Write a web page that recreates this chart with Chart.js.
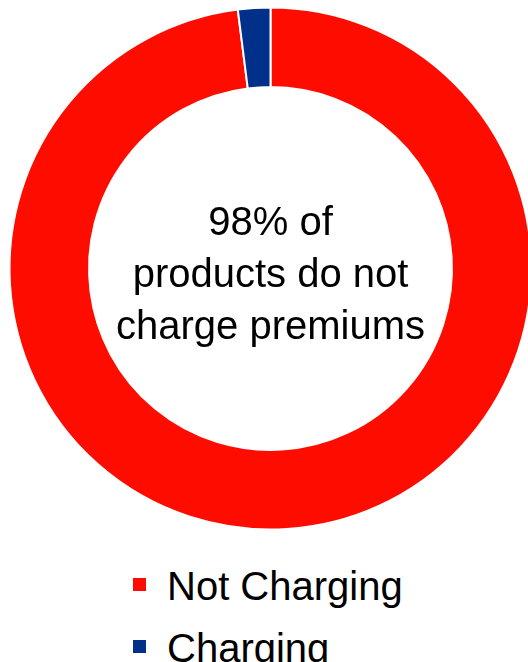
<!DOCTYPE html>
<html>
<head>
<meta charset="utf-8">
<script src="https://cdn.jsdelivr.net/npm/chart.js@4.4.1/dist/chart.umd.min.js"></script>
<style>
    html, body {
        margin: 0;
        padding: 0;
        background: #fff;
        width: 528px;
        height: 662px;
        overflow: hidden;
        font-family: "Liberation Sans", Arial, sans-serif;
    }
    #wrap {
        position: absolute;
        left: 0;
        top: 0;
        width: 541px;
        height: 537px;
    }
    #legend {
        position: absolute;
        left: 133px;
        top: 563px;
        margin: 0;
        padding: 0;
        list-style: none;
        font-size: 40px;
        color: #000;
    }
    #legend li {
        position: relative;
        height: 62px;
        line-height: 46px;
        padding-left: 34px;
        white-space: nowrap;
    }
    #legend li span {
        position: absolute;
        left: 0;
        top: 15px;
        width: 13px;
        height: 13px;
    }
</style>
</head>
<body>
<div id="wrap"><canvas id="myChart"></canvas></div>
<ul id="legend"></ul>

<script>
const categories = ["Not Charging", "Charging"];
const shares = [98, 2];
const colors = ["#FF0C00", "#00308A"];
const centerLines = ["98% of", "products do not", "charge premiums"];

// Texte au centre de l'anneau
const centerText = {
    id: "centerText",
    afterDatasetsDraw(chart) {
        const arc = chart.getDatasetMeta(0).data[0];
        if (!arc) return;
        const ctx = chart.ctx;
        ctx.save();
        ctx.font = '40px "Liberation Sans", Arial, sans-serif';
        ctx.fillStyle = "#000";
        ctx.textAlign = "center";
        ctx.textBaseline = "alphabetic";
        const lineH = 52;
        const base = arc.y + 18 - lineH;
        centerLines.forEach((line, i) => {
            ctx.fillText(line, arc.x, base + i * lineH);
        });
        ctx.restore();
    }
};

const canvas = document.getElementById("myChart");
const ctx = canvas.getContext("2d");

const chart = new Chart(ctx, {
    type: "doughnut",
    data: {
        labels: categories,
        datasets: [{
            data: shares,
            backgroundColor: colors,
            borderColor: "#fff",
            borderWidth: 2
        }]
    },
    options: {
        responsive: true,
        maintainAspectRatio: false,
        animation: false,
        radius: 261,
        cutout: 186,
        layout: { padding: 0 },
        plugins: {
            legend: { display: false },
            tooltip: { enabled: false }
        }
    },
    plugins: [centerText]
});

// Légende verticale construite depuis les données du graphique
const legendEl = document.getElementById("legend");
chart.data.labels.forEach((label, i) => {
    const li = document.createElement("li");
    const box = document.createElement("span");
    box.style.background = chart.data.datasets[0].backgroundColor[i];
    li.appendChild(box);
    li.appendChild(document.createTextNode(label));
    legendEl.appendChild(li);
});
</script>
</body>
</html>
